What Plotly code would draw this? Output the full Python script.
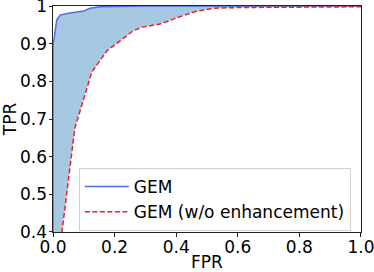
import plotly.graph_objects as go

# GEM ROC curve (FPR, TPR)
gem_fpr = [0.0, 0.0, 0.003, 0.006, 0.012, 0.023, 0.05, 0.10, 0.12, 0.153, 0.20, 0.30, 0.50, 0.70, 1.0]
gem_tpr = [0.0, 0.902, 0.91, 0.93, 0.963, 0.976, 0.981, 0.987, 0.994, 0.998, 0.999, 1.0, 1.0, 1.0, 1.0]

# GEM (w/o enhancement) ROC curve
wo_fpr = [0.0, 0.029, 0.071, 0.126, 0.175, 0.26, 0.29, 0.347, 0.40, 0.46, 0.52, 0.60, 0.80, 1.0]
wo_tpr = [0.0, 0.40, 0.676, 0.825, 0.881, 0.934, 0.944, 0.952, 0.968, 0.985, 0.994, 0.996, 0.997, 0.998]

xticks = [0.0, 0.2, 0.4, 0.6, 0.8, 1.0]
xticktext = ["0.0", "0.2", "0.4", "0.6", "0.8", "1.0"]
yticks = [0.4, 0.5, 0.6, 0.7, 0.8, 0.9, 1.0]
yticktext = ["0.4", "0.5", "0.6", "0.7", "0.8", "0.9", "1"]

fig = go.Figure()

fig.add_trace(go.Scatter(
    x=gem_fpr + wo_fpr[::-1], y=gem_tpr + wo_tpr[::-1],
    fill="toself", fillcolor="#a6c8e1", mode="none",
    showlegend=False, hoverinfo="skip"))

fig.add_trace(go.Scatter(
    x=gem_fpr, y=gem_tpr, mode="lines", name="GEM",
    line=dict(color="#4a6fe3", width=1.5)))

fig.add_trace(go.Scatter(
    x=wo_fpr, y=wo_tpr, mode="lines", name="GEM (w/o enhancement)",
    line=dict(color="#e8202a", width=1.5, dash="5px,2.5px")))

axis_common = dict(
    showline=True, linecolor="#222", linewidth=1, mirror=True,
    ticks="outside", ticklen=3.5, tickcolor="#222", showgrid=False,
    zeroline=False, tickfont=dict(size=17, color="#000"), automargin=False,
    ticklabeloverflow="allow",
)

fig.update_layout(
    width=374, height=272,
    margin=dict(l=53, r=13, t=6, b=40),
    paper_bgcolor="white", plot_bgcolor="white",
    font=dict(family="DejaVu Sans", size=17, color="#000"),
    xaxis=dict(range=[-0.0001, 1.0001], tickvals=xticks, ticktext=xticktext,
               ticklabelstandoff=-4,
               title=dict(text="FPR", font=dict(size=17), standoff=0), **axis_common),
    yaxis=dict(range=[0.39995, 1.00005], tickvals=yticks, ticktext=yticktext,
               ticklabelstandoff=-2,
               title=dict(text="TPR", font=dict(size=17), standoff=3), **axis_common),
    legend=dict(x=0.084, y=0.283, xanchor="left", yanchor="top",
                bgcolor="rgba(255,255,255,0.8)", bordercolor="#d0d0d0", borderwidth=1,
                font=dict(size=17), tracegroupgap=0, itemwidth=44),
    showlegend=True,
)

fig.write_html("out.html", config={"displayModeBar": False},
               post_script="document.body.style.margin='0';document.body.style.overflow='hidden';")
